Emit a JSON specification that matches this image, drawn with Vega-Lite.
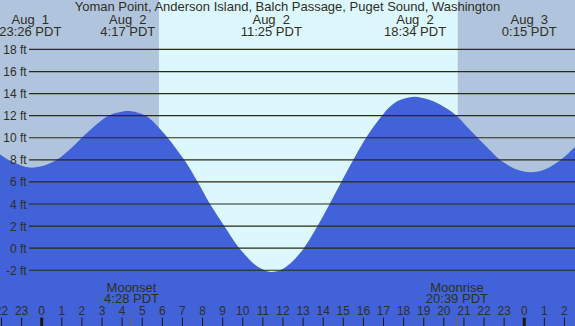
{
  "$schema": "https://vega.github.io/schema/vega-lite/v6.json",
  "width": 575,
  "height": 326,
  "padding": 0,
  "autosize": {"type": "fit", "contains": "padding"},
  "config": {"view": {"stroke": null}, "text": {"font": "Liberation Sans", "color": "#2f2f1c"}},
  "datasets": {
    "sky": [
      {"start": -2.074, "end": 5.833, "kind": "night"},
      {"start": 5.833, "end": 20.69, "kind": "day"},
      {"start": 20.69, "end": 26.524, "kind": "night"}
    ],
    "tide": [
      {"h": -2.074, "ft": 8.5}, {"h": -1.66, "ft": 8.0}, {"h": -1.08, "ft": 7.54}, {"h": -0.57, "ft": 7.3},
      {"h": -0.08, "ft": 7.4}, {"h": 0.41, "ft": 7.7}, {"h": 0.83, "ft": 8.1}, {"h": 1.41, "ft": 8.95},
      {"h": 1.99, "ft": 10.0}, {"h": 2.65, "ft": 11.1}, {"h": 3.31, "ft": 12.0}, {"h": 3.8, "ft": 12.3},
      {"h": 4.28, "ft": 12.43}, {"h": 4.75, "ft": 12.3}, {"h": 5.22, "ft": 11.95}, {"h": 5.63, "ft": 11.3},
      {"h": 6.27, "ft": 10.0}, {"h": 6.63, "ft": 9.15}, {"h": 7.09, "ft": 8.0}, {"h": 7.76, "ft": 6.0},
      {"h": 8.37, "ft": 4.0}, {"h": 9.08, "ft": 2.0}, {"h": 9.78, "ft": 0.1}, {"h": 10.11, "ft": -0.6},
      {"h": 10.61, "ft": -1.5}, {"h": 11.1, "ft": -2.0}, {"h": 11.42, "ft": -2.15}, {"h": 11.85, "ft": -2.0},
      {"h": 12.35, "ft": -1.4}, {"h": 12.7, "ft": -0.75}, {"h": 13.04, "ft": 0.0}, {"h": 13.72, "ft": 2.0},
      {"h": 14.32, "ft": 4.0}, {"h": 14.9, "ft": 6.0}, {"h": 15.5, "ft": 8.0}, {"h": 16.13, "ft": 10.0},
      {"h": 16.92, "ft": 12.0}, {"h": 17.32, "ft": 12.82}, {"h": 17.82, "ft": 13.42}, {"h": 18.57, "ft": 13.72},
      {"h": 19.06, "ft": 13.55}, {"h": 19.56, "ft": 13.25}, {"h": 20.06, "ft": 12.75}, {"h": 20.64, "ft": 12.0},
      {"h": 21.15, "ft": 11.0}, {"h": 21.68, "ft": 10.0}, {"h": 22.22, "ft": 9.0}, {"h": 22.79, "ft": 8.0},
      {"h": 23.3, "ft": 7.4}, {"h": 23.75, "ft": 7.05}, {"h": 24.25, "ft": 6.87}, {"h": 24.75, "ft": 6.97},
      {"h": 25.28, "ft": 7.35}, {"h": 25.82, "ft": 8.0}, {"h": 26.2, "ft": 8.6}, {"h": 26.524, "ft": 9.19}
    ],
    "grid": [
      {"ft": 18, "label": "18 ft"}, {"ft": 16, "label": "16 ft"}, {"ft": 14, "label": "14 ft"},
      {"ft": 12, "label": "12 ft"}, {"ft": 10, "label": "10 ft"}, {"ft": 8, "label": "8 ft"},
      {"ft": 6, "label": "6 ft"}, {"ft": 4, "label": "4 ft"}, {"ft": 2, "label": "2 ft"},
      {"ft": 0, "label": "0 ft"}, {"ft": -2, "label": "-2 ft"}
    ],
    "extremes": [
      {"h": -0.567, "date": "Aug \u00a01", "time": "23:26 PDT"},
      {"h": 4.283, "date": "Aug \u00a02", "time": "4:17 PDT"},
      {"h": 11.417, "date": "Aug \u00a02", "time": "11:25 PDT"},
      {"h": 18.567, "date": "Aug \u00a02", "time": "18:34 PDT"},
      {"h": 24.25, "date": "Aug \u00a03", "time": "0:15 PDT"}
    ],
    "hours": [
      {"h": -2, "label": "22"}, {"h": -1, "label": "23"}, {"h": 0, "label": "0"}, {"h": 1, "label": "1"},
      {"h": 2, "label": "2"}, {"h": 3, "label": "3"}, {"h": 4, "label": "4"}, {"h": 5, "label": "5"},
      {"h": 6, "label": "6"}, {"h": 7, "label": "7"}, {"h": 8, "label": "8"}, {"h": 9, "label": "9"},
      {"h": 10, "label": "10"}, {"h": 11, "label": "11"}, {"h": 12, "label": "12"}, {"h": 13, "label": "13"},
      {"h": 14, "label": "14"}, {"h": 15, "label": "15"}, {"h": 16, "label": "16"}, {"h": 17, "label": "17"},
      {"h": 18, "label": "18"}, {"h": 19, "label": "19"}, {"h": 20, "label": "20"}, {"h": 21, "label": "21"},
      {"h": 22, "label": "22"}, {"h": 23, "label": "23"}, {"h": 24, "label": "0"}, {"h": 25, "label": "1"},
      {"h": 26, "label": "2"}
    ],
    "moon": [
      {"h": 4.467, "event": "Moonset", "time": "4:28 PDT"},
      {"h": 20.65, "event": "Moonrise", "time": "20:39 PDT"}
    ],
    "title": [{"text": "Yoman Point, Anderson Island, Balch Passage, Puget Sound, Washington"}]
  },
  "layer": [
    {
      "data": {"name": "sky"},
      "mark": {"type": "rect", "clip": true},
      "encoding": {
        "x": {"field": "start", "type": "quantitative", "scale": {"domain": [-2.074, 26.524], "nice": false, "zero": false}, "axis": null},
        "x2": {"field": "end"},
        "color": {"field": "kind", "type": "nominal", "scale": {"domain": ["night", "day"], "range": ["#B0C4DE", "#DDF7FF"]}, "legend": null}
      }
    },
    {
      "data": {"name": "tide"},
      "mark": {"type": "area", "interpolate": "catmull-rom", "color": "#4162D8", "clip": true},
      "encoding": {
        "x": {"field": "h", "type": "quantitative", "scale": {"domain": [-2.074, 26.524], "nice": false, "zero": false}, "axis": null},
        "y": {"field": "ft", "type": "quantitative", "scale": {"domain": [-7.05, 22.48], "nice": false, "zero": false}, "axis": null},
        "y2": {"datum": -7.05}
      }
    },
    {
      "data": {"name": "grid"},
      "mark": {"type": "rule", "color": "#2b2b10", "strokeWidth": 1.2, "clip": true},
      "encoding": {
        "x": {"datum": -0.632, "type": "quantitative", "scale": {"domain": [-2.074, 26.524], "nice": false, "zero": false}, "axis": null},
        "x2": {"datum": 26.524},
        "y": {"field": "ft", "type": "quantitative", "scale": {"domain": [-7.05, 22.48], "nice": false, "zero": false}, "axis": null}
      }
    },
    {
      "data": {"name": "grid"},
      "mark": {"type": "text", "align": "right", "baseline": "middle", "fontSize": 12, "dy": 0.5, "clip": true},
      "encoding": {
        "x": {"datum": -0.746, "type": "quantitative", "scale": {"domain": [-2.074, 26.524], "nice": false, "zero": false}, "axis": null},
        "y": {"field": "ft", "type": "quantitative", "scale": {"domain": [-7.05, 22.48], "nice": false, "zero": false}, "axis": null},
        "text": {"field": "label"}
      }
    },
    {
      "data": {"name": "title"},
      "mark": {"type": "text", "align": "center", "baseline": "alphabetic", "fontSize": 13, "clip": true},
      "encoding": {
        "x": {"datum": 12.22, "type": "quantitative", "scale": {"domain": [-2.074, 26.524], "nice": false, "zero": false}, "axis": null},
        "y": {"datum": 21.51, "type": "quantitative", "scale": {"domain": [-7.05, 22.48], "nice": false, "zero": false}, "axis": null},
        "text": {"field": "text"}
      }
    },
    {
      "data": {"name": "extremes"},
      "mark": {"type": "text", "align": "center", "baseline": "alphabetic", "fontSize": 13, "clip": true},
      "encoding": {
        "x": {"field": "h", "type": "quantitative", "scale": {"domain": [-2.074, 26.524], "nice": false, "zero": false}, "axis": null},
        "y": {"datum": 20.28, "type": "quantitative", "scale": {"domain": [-7.05, 22.48], "nice": false, "zero": false}, "axis": null},
        "text": {"field": "date"}
      }
    },
    {
      "data": {"name": "extremes"},
      "mark": {"type": "text", "align": "center", "baseline": "alphabetic", "fontSize": 13, "clip": true},
      "encoding": {
        "x": {"field": "h", "type": "quantitative", "scale": {"domain": [-2.074, 26.524], "nice": false, "zero": false}, "axis": null},
        "y": {"datum": 19.22, "type": "quantitative", "scale": {"domain": [-7.05, 22.48], "nice": false, "zero": false}, "axis": null},
        "text": {"field": "time"}
      }
    },
    {
      "data": {"name": "hours"},
      "mark": {"type": "rule", "color": "#1a1a10", "clip": true},
      "encoding": {
        "x": {"field": "h", "type": "quantitative", "scale": {"domain": [-2.074, 26.524], "nice": false, "zero": false}, "axis": null},
        "y": {"datum": -6.29, "type": "quantitative", "scale": {"domain": [-7.05, 22.48], "nice": false, "zero": false}, "axis": null},
        "y2": {"datum": -7.05},
        "strokeWidth": {"condition": {"test": "datum.label === '0'", "value": 3}, "value": 1}
      }
    },
    {
      "data": {"name": "hours"},
      "mark": {"type": "text", "align": "center", "baseline": "alphabetic", "fontSize": 12, "clip": true},
      "encoding": {
        "x": {"field": "h", "type": "quantitative", "scale": {"domain": [-2.074, 26.524], "nice": false, "zero": false}, "axis": null},
        "y": {"datum": -6.08, "type": "quantitative", "scale": {"domain": [-7.05, 22.48], "nice": false, "zero": false}, "axis": null},
        "text": {"field": "label"}
      }
    },
    {
      "data": {"name": "moon"},
      "mark": {"type": "rule", "color": "#7d6a35", "strokeWidth": 1, "clip": true},
      "encoding": {
        "x": {"field": "h", "type": "quantitative", "scale": {"domain": [-2.074, 26.524], "nice": false, "zero": false}, "axis": null},
        "y": {"datum": -6.2, "type": "quantitative", "scale": {"domain": [-7.05, 22.48], "nice": false, "zero": false}, "axis": null},
        "y2": {"datum": -7.05}
      }
    },
    {
      "data": {"name": "moon"},
      "mark": {"type": "text", "align": "center", "baseline": "alphabetic", "fontSize": 13, "clip": true},
      "encoding": {
        "x": {"field": "h", "type": "quantitative", "scale": {"domain": [-2.074, 26.524], "nice": false, "zero": false}, "axis": null},
        "y": {"datum": -3.94, "type": "quantitative", "scale": {"domain": [-7.05, 22.48], "nice": false, "zero": false}, "axis": null},
        "text": {"field": "event"}
      }
    },
    {
      "data": {"name": "moon"},
      "mark": {"type": "text", "align": "center", "baseline": "alphabetic", "fontSize": 13, "clip": true},
      "encoding": {
        "x": {"field": "h", "type": "quantitative", "scale": {"domain": [-2.074, 26.524], "nice": false, "zero": false}, "axis": null},
        "y": {"datum": -4.99, "type": "quantitative", "scale": {"domain": [-7.05, 22.48], "nice": false, "zero": false}, "axis": null},
        "text": {"field": "time"}
      }
    }
  ]
}
